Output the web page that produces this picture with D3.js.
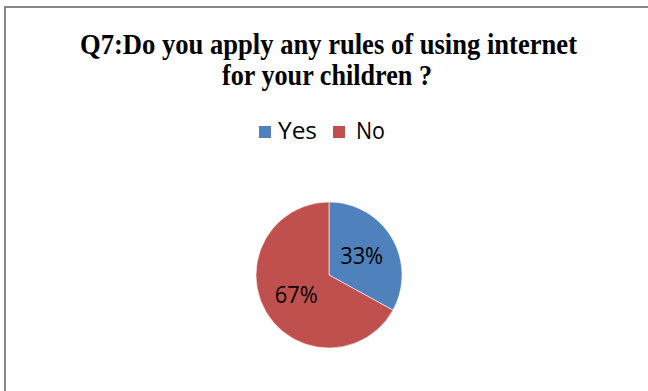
<!DOCTYPE html>
<html>
<head>
<meta charset="utf-8">
<script src="https://cdn.jsdelivr.net/npm/d3@7"></script>
<style>
html,body{margin:0;padding:0;background:#fff;}
svg{display:block;}
</style>
</head>
<body>
<svg id="chart" width="648" height="391"></svg>
<script>
const titleLines = ["Q7:Do you apply any rules of using internet", "for your children ?"];
const categories = ["Yes", "No"];
const values = [33, 67];
const colors = ["#4F81BD", "#C0504D"];

const svg = d3.select("#chart");

// chart border (top and left visible)
svg.append("path")
  .attr("d", "M5,391 L5,7 L648,7")
  .attr("fill", "none")
  .attr("stroke", "#868686")
  .attr("stroke-width", 2);

const sansFont = "'Open Sans','Noto Sans','Liberation Sans',sans-serif";

// title
const titleSpecs = [{y: 54, cx: 328.5, w: 497}, {y: 85, cx: 327, w: 210}];
titleLines.forEach((t, i) => {
  svg.append("text")
    .attr("x", titleSpecs[i].cx - titleSpecs[i].w / 2)
    .attr("y", titleSpecs[i].y)
    .attr("font-family", "'Liberation Serif','Times New Roman',serif")
    .attr("font-weight", "bold")
    .attr("font-size", 28.5)
    .attr("textLength", titleSpecs[i].w)
    .attr("lengthAdjust", "spacingAndGlyphs")
    .attr("fill", "#000")
    .text(t);
});

// legend
const legendSpecs = [{sx: 259, tx: 278, tw: 39}, {sx: 333, tx: 356, tw: 29}];
categories.forEach((c, i) => {
  svg.append("rect")
    .attr("x", legendSpecs[i].sx).attr("y", 126)
    .attr("width", 12).attr("height", 12)
    .attr("fill", colors[i]);
  svg.append("text")
    .attr("x", legendSpecs[i].tx).attr("y", 138.7)
    .attr("font-family", sansFont)
    .attr("font-size", 23)
    .attr("textLength", legendSpecs[i].tw)
    .attr("lengthAdjust", "spacingAndGlyphs")
    .attr("fill", "#000")
    .text(c);
});

// pie
const cx = 329, cy = 275, r = 73;
const pie = d3.pie().sort(null).value(d => d)(values);
const arc = d3.arc().innerRadius(0).outerRadius(r);
const labelArc = d3.arc().innerRadius(r * 0.52).outerRadius(r * 0.52);
const g = svg.append("g").attr("transform", `translate(${cx},${cy})`);
g.selectAll("path.slice").data(pie).enter().append("path")
  .attr("class", "slice")
  .attr("d", arc)
  .attr("fill", (d, i) => colors[i])
  .attr("stroke", "#fff")
  .attr("stroke-width", 0.6);
g.selectAll("text.lbl").data(pie).enter().append("text")
  .attr("class", "lbl")
  .attr("transform", d => { const p = labelArc.centroid(d); return `translate(${p[0]},${p[1]})`; })
  .attr("x", -21.5)
  .attr("dy", "0.36em")
  .attr("font-family", sansFont)
  .attr("font-size", 23)
  .attr("textLength", 43)
  .attr("lengthAdjust", "spacingAndGlyphs")
  .attr("fill", "#000")
  .text(d => d.data + "%");
</script>
</body>
</html>
